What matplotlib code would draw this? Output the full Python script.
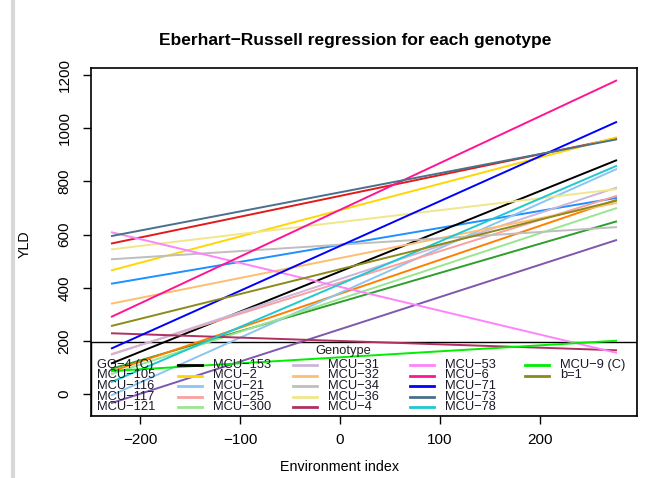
import numpy as np
import matplotlib
matplotlib.use("Agg")
import matplotlib.pyplot as plt
from matplotlib.lines import Line2D
from matplotlib.patches import Rectangle

plt.rcParams['font.family'] = ['Liberation Sans', 'DejaVu Sans']

# environment index range covered by the regression lines
env_range = [-229, 277]

genotypes = ['GG-4 (C)', 'MCU-105', 'MCU-116', 'MCU-117', 'MCU-121',
             'MCU-153', 'MCU-2', 'MCU-21', 'MCU-25', 'MCU-300',
             'MCU-31', 'MCU-32', 'MCU-34', 'MCU-36', 'MCU-4',
             'MCU-53', 'MCU-6', 'MCU-71', 'MCU-73', 'MCU-78',
             'MCU-9 (C)', 'b=1']

# fitted YLD at the lowest and highest environment index
yld_low = [566, 415, 95, 85, -34,
           115, 465, -5, 150, 75,
           148, 340, 507, 544, 229,
           609, 290, 171, 594, 45,
           87, 256]
yld_high = [962, 738, 650, 731, 580,
            880, 966, 847, 746, 700,
            777, 719, 628, 771, 165,
            155, 1180, 1024, 958, 859,
            201, 728]

colors = ['#E31A1C', '#1E90FF', '#2E9E2E', '#FF7F00', '#7E57AE',
          '#000000', '#FFD700', '#8CC6F0', '#FBA0A0', '#98E68F',
          '#CDB5DA', '#FDBF6F', '#BEBEBE', '#F0E68C', '#B03060',
          '#FF83FA', '#FF1493', '#0000FF', '#4A708B', '#20C8D0',
          '#00EE00', '#8B8B1A']

fig = plt.figure(figsize=(6.57, 4.78), dpi=100)
W, H = 657, 478
L, R, T, B = 91, 637, 68, 416
ax = fig.add_axes([L / W, 1 - B / H, (R - L) / W, (B - T) / H])

for g, lo, hi, c in zip(genotypes, yld_low, yld_high, colors):
    ax.plot(env_range, [lo, hi], color=c, lw=1.4, solid_capstyle='butt')

ax.set_xticks(np.arange(-200, 201, 100))
ax.set_yticks(np.arange(0, 1201, 200))
ax.set_xticklabels([str(v).replace('-', '\u2212') for v in range(-200, 201, 100)])
ax.tick_params(axis='both', direction='out', length=6, width=1, labelsize=11)
ax.tick_params(axis='x', pad=6)
ax.tick_params(axis='y', pad=8)
for lab in ax.get_yticklabels():
    lab.set_rotation(90)
    lab.set_va('center')
for s in ax.spines.values():
    s.set_linewidth(1.2)

# legend box drawn by hand (R style, clipped to the plot region)
def fx(px):
    return (px - L) / (R - L)

def fy(py):
    return (B - py) / (B - T)

ax.add_patch(Rectangle((0, 0), 1, fy(342), transform=ax.transAxes,
                       fill=False, edgecolor='black', lw=1.0))
ax.text(fx(343), fy(351), 'Genotype', transform=ax.transAxes,
        ha='center', va='center', fontsize=9.3, color='#222222')
col_x = [97, 213, 328, 445, 560]
row_y = [365, 375.5, 386, 396.5, 407]
for i, (g, c) in enumerate(zip(genotypes, colors)):
    col, row = divmod(i, 5)
    tx, ty = col_x[col], row_y[row]
    ln = Line2D([fx(tx - 35), fx(tx - 11)], [fy(ty), fy(ty)],
                transform=ax.transAxes, color=c, lw=2)
    ax.add_line(ln)
    ax.text(fx(tx), fy(ty), g.replace('-', '\u2212'), transform=ax.transAxes,
            ha='left', va='center', fontsize=9.3, color='#1a1a2a')

ax.set_xlim(-249, 297)
ax.set_ylim(-82, 1226)

fig.text(355 / W, 1 - 40 / H, 'Eberhart\u2212Russell regression for each genotype',
         ha='center', va='center', fontsize=12.5, fontweight='bold')
fig.text(340 / W, 1 - 467 / H, 'Environment index', ha='center', va='center', fontsize=10.3)
fig.text(25 / W, 1 - 244 / H, 'YLD', ha='center', va='center', fontsize=10.3, rotation=90)
fig.add_artist(Line2D([13 / W, 13 / W], [0, 1], color='#d8d8d8', lw=3))

fig.savefig('out.png', dpi=100)
